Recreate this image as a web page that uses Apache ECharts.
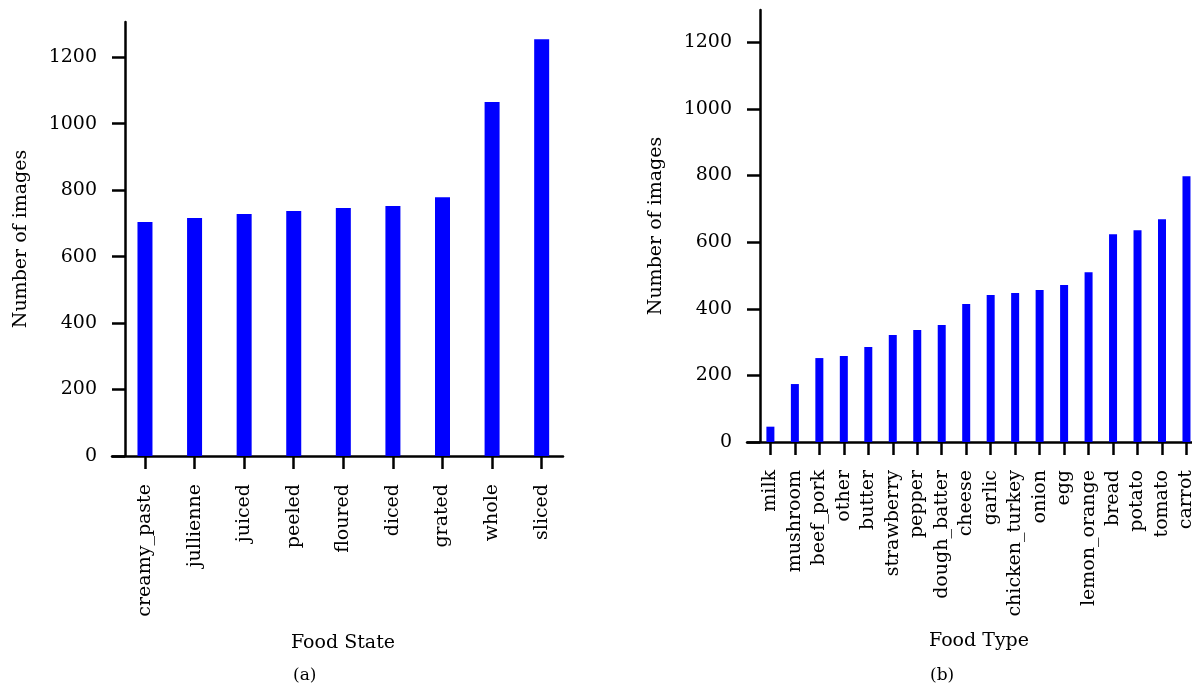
<!DOCTYPE html>
<html>
<head>
<meta charset="utf-8">
<script src="https://cdn.jsdelivr.net/npm/echarts@6/dist/echarts.min.js"></script>
<style>
  html, body { margin: 0; padding: 0; background: #fff; }
  #main { width: 1192px; height: 687px; }
</style>
</head>
<body>
<div id="main"></div>
<script>
// data
var stateNames = ['creamy_paste', 'jullienne', 'juiced', 'peeled', 'floured', 'diced', 'grated', 'whole', 'sliced'];
var stateCounts = [704, 716, 728, 737, 746, 752, 779, 1065, 1254];

var typeNames = ['milk', 'mushroom', 'beef_pork', 'other', 'butter', 'strawberry', 'pepper', 'dough_batter', 'cheese',
  'garlic', 'chicken_turkey', 'onion', 'egg', 'lemon_orange', 'bread', 'potato', 'tomato', 'carrot'];
var typeCounts = [46, 174, 252, 258, 285, 321, 336, 351, 414, 441, 447, 456, 471, 510, 624, 636, 669, 798];

var yTicks = [0, 200, 400, 600, 800, 1000, 1200];

var FONT = 'DejaVu Serif';
var INK = '#000';

function idx(arr) {
  return arr.map(function (_, i) { return i; });
}

function xAxisOf(gridIndex, names, min, max, nameGap, padLeft, label) {
  return {
    type: 'value', gridIndex: gridIndex, min: min, max: max,
    name: label, nameLocation: 'middle', nameGap: nameGap,
    nameTextStyle: { fontFamily: FONT, fontSize: 19, color: INK, padding: [0, 0, 0, padLeft] },
    splitLine: { show: false },
    axisLine: { onZero: false, lineStyle: { color: INK, width: 2.5 } },
    axisTick: { customValues: idx(names), length: 13, lineStyle: { color: INK, width: 2.5 } },
    axisLabel: {
      customValues: idx(names), rotate: 90, margin: 28,
      fontFamily: FONT, fontSize: 19, color: INK,
      formatter: function (v) { return names[v]; }
    }
  };
}

function yAxisOf(gridIndex, max) {
  return {
    type: 'value', gridIndex: gridIndex, min: 0, max: max, offset: -13,
    name: 'Number of images', nameLocation: 'middle', nameGap: 94,
    nameTextStyle: { fontFamily: FONT, fontSize: 19, color: INK },
    splitLine: { show: false },
    axisLine: { show: true, onZero: false, lineStyle: { color: INK, width: 2.5 } },
    axisTick: { show: true, customValues: yTicks, length: 13, lineStyle: { color: INK, width: 2.5 } },
    axisLabel: {
      customValues: yTicks, margin: 28, fontFamily: FONT, fontSize: 19, color: INK,
      formatter: function (v) { return String(v); }
    }
  };
}

var chart = echarts.init(document.getElementById('main'), null, { renderer: 'canvas' });

chart.setOption({
  animation: false,
  backgroundColor: '#fff',
  textStyle: { fontFamily: FONT },
  title: [
    { text: '(a)', left: 293, top: 667, padding: 0, textStyle: { fontFamily: FONT, fontSize: 17, fontWeight: 'normal', color: INK } },
    { text: '(b)', left: 930, top: 667, padding: 0, textStyle: { fontFamily: FONT, fontSize: 17, fontWeight: 'normal', color: INK } }
  ],
  grid: [
    { left: 112, top: 22, width: 451, bottom: 231, containLabel: false, outerBoundsMode: 'none' },
    { left: 747, top: 10, width: 450, bottom: 245, containLabel: false, outerBoundsMode: 'none' }
  ],
  xAxis: [
    xAxisOf(0, stateNames, -0.665, 8.43, 178, 11, 'Food State'),
    xAxisOf(1, typeNames, -0.956, 17.43, 190, 14, 'Food Type')
  ],
  yAxis: [
    yAxisOf(0, 1306),
    yAxisOf(1, 1297)
  ],
  series: [
    {
      type: 'bar', xAxisIndex: 0, yAxisIndex: 0, barWidth: 15,
      itemStyle: { color: '#0000ff' },
      data: stateCounts.map(function (v, i) { return [i, v]; })
    },
    {
      type: 'bar', xAxisIndex: 1, yAxisIndex: 1, barWidth: 8,
      itemStyle: { color: '#0000ff' },
      data: typeCounts.map(function (v, i) { return [i, v]; })
    }
  ]
});
</script>
</body>
</html>
